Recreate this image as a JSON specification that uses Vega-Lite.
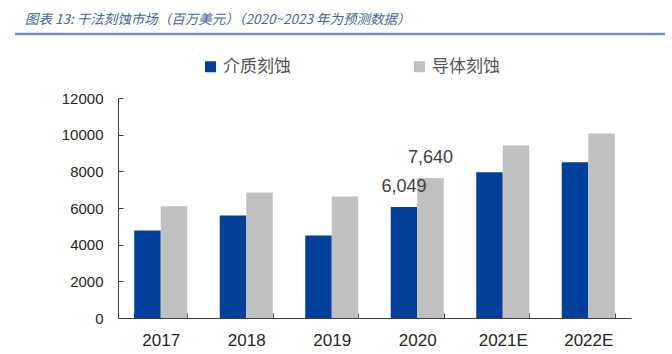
{
  "$schema": "https://vega.github.io/schema/vega-lite/v6.json",
  "width": 513,
  "height": 220,
  "autosize": {"type": "none"},
  "padding": {"left": 118, "top": 98, "right": 41, "bottom": 36},
  "background": "white",
  "config": {
    "view": {"stroke": null},
    "font": "Liberation Sans",
    "axisY": {
      "title": null, "labelFontSize": 15, "labelColor": "#262626", "labelOverlap": false,
      "tickSize": -5, "tickColor": "#404040", "domainColor": "#404040",
      "labelPadding": 20, "grid": false
    }
  },
  "data": {
    "values": [
      {"year": "2017", "series": "介质刻蚀", "value": 4770},
      {"year": "2017", "series": "导体刻蚀", "value": 6100},
      {"year": "2018", "series": "介质刻蚀", "value": 5590},
      {"year": "2018", "series": "导体刻蚀", "value": 6850},
      {"year": "2019", "series": "介质刻蚀", "value": 4500},
      {"year": "2019", "series": "导体刻蚀", "value": 6630},
      {"year": "2020", "series": "介质刻蚀", "value": 6049},
      {"year": "2020", "series": "导体刻蚀", "value": 7640},
      {"year": "2021E", "series": "介质刻蚀", "value": 7950},
      {"year": "2021E", "series": "导体刻蚀", "value": 9410},
      {"year": "2022E", "series": "介质刻蚀", "value": 8500},
      {"year": "2022E", "series": "导体刻蚀", "value": 10060}
    ]
  },
  "layer": [
    {
      "layer": [
        {
          "mark": {"type": "bar"},
          "encoding": {
            "x": {
              "field": "year", "type": "nominal",
              "sort": ["2017", "2018", "2019", "2020", "2021E", "2022E"],
              "scale": {"paddingInner": 0.38, "paddingOuter": 0.19},
              "axis": {
                "title": null, "labelAngle": 0, "labelFontSize": 17, "labelColor": "#262626",
                "tickBand": "extent", "tickSize": -5, "tickColor": "#404040",
                "domainColor": "#404040", "labelPadding": 19, "grid": false
              }
            },
            "xOffset": {
              "field": "series", "type": "nominal",
              "sort": ["介质刻蚀", "导体刻蚀"],
              "scale": {"paddingInner": 0, "paddingOuter": 0}
            },
            "y": {
              "field": "value", "type": "quantitative",
              "scale": {"domain": [0, 12000], "nice": false},
              "axis": {"values": [0, 2000, 4000, 6000, 8000, 10000, 12000], "format": "d"}
            },
            "color": {
              "field": "series", "type": "nominal",
              "scale": {"domain": ["介质刻蚀", "导体刻蚀"], "range": ["#003f9a", "#c0c0c0"]},
              "legend": {
                "title": null, "orient": "none", "legendX": 84, "legendY": -40,
                "direction": "horizontal", "columnPadding": 120,
                "symbolType": "square", "symbolSize": 121, "symbolStrokeWidth": 0,
                "labelFontSize": 17, "labelFont": "Noto Sans CJK SC", "labelColor": "#555555",
                "labelOffset": 4, "padding": 0
              }
            }
          }
        },
        {
          "transform": [{"filter": "datum.year === '2020'"}],
          "mark": {"type": "text", "baseline": "middle", "dy": -20, "fontSize": 18, "color": "#404040"},
          "encoding": {
            "x": {"field": "year", "type": "nominal", "sort": ["2017", "2018", "2019", "2020", "2021E", "2022E"]},
            "xOffset": {"field": "series", "type": "nominal", "sort": ["介质刻蚀", "导体刻蚀"]},
            "y": {"field": "value", "type": "quantitative", "axis": {"values": [0, 2000, 4000, 6000, 8000, 10000, 12000], "format": "d"}},
            "text": {"field": "value", "type": "quantitative", "format": ","}
          }
        }
      ]
    },
    {
      "data": {"values": [{"caption": ""}]},
      "mark": {"type": "rule", "color": "#7090bd", "strokeWidth": 2.5},
      "encoding": {
        "x": {"datum": -0.2008, "type": "quantitative", "scale": {"domain": [0, 1], "nice": false, "zero": false}, "axis": null},
        "x2": {"datum": 1.0663},
        "y": {"datum": 15491, "type": "quantitative", "scale": {"domain": [0, 12000], "nice": false}, "axis": {"values": [0, 2000, 4000, 6000, 8000, 10000, 12000], "format": "d"}}
      }
    },
    {
      "data": {"values": [{"caption": "图表 13:  干法刻蚀市场（百万美元）（2020~2023 年为预测数据）"}]},
      "mark": {"type": "text", "align": "left", "baseline": "middle", "fontSize": 13.5, "fontStyle": "italic", "font": "Noto Sans CJK SC", "color": "#46659a"},
      "encoding": {
        "x": {"datum": -0.1813, "type": "quantitative", "scale": {"domain": [0, 1], "nice": false, "zero": false}, "axis": null},
        "y": {"datum": 16255, "type": "quantitative", "scale": {"domain": [0, 12000], "nice": false}, "axis": {"values": [0, 2000, 4000, 6000, 8000, 10000, 12000], "format": "d"}},
        "text": {"field": "caption", "type": "nominal"}
      }
    }
  ],
  "resolve": {"scale": {"x": "independent"}, "axis": {"x": "independent"}}
}
